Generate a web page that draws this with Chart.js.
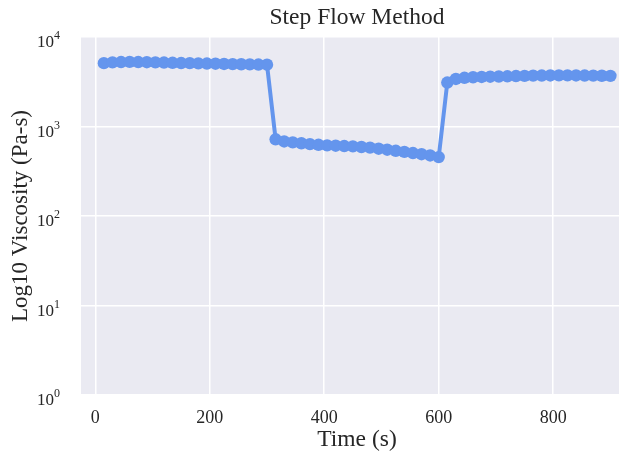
<!DOCTYPE html>
<html>
<head>
<meta charset="utf-8">
<title>Step Flow Method</title>
<script src="https://cdn.jsdelivr.net/npm/chart.js@4.4.1/dist/chart.umd.min.js"></script>
<style>
    html, body { margin: 0; padding: 0; background: #ffffff; }
    canvas { display: block; }
</style>
</head>
<body>
<canvas id="viscosityChart" width="629" height="457"></canvas>
<script>
// Step flow test: three shear steps, viscosity sampled every 15 s
const timeSeconds = [
    15, 30, 45, 60, 75, 90, 105, 120, 135, 150,
    165, 180, 195, 210, 225, 240, 255, 270, 285, 300,
    315, 330, 345, 360, 375, 390, 405, 420, 435, 450,
    465, 480, 495, 510, 525, 540, 555, 570, 585, 600,
    615, 630, 645, 660, 675, 690, 705, 720, 735, 750,
    765, 780, 795, 810, 825, 840, 855, 870, 885, 900
];

const viscosity = [
    5100, 5200, 5250, 5270, 5250, 5230, 5200, 5180, 5150, 5120,
    5100, 5080, 5050, 5030, 5000, 4980, 4960, 4940, 4920, 4900,
    720, 680, 665, 650, 635, 625, 615, 610, 605, 600,
    590, 580, 565, 550, 535, 520, 505, 490, 475, 455,
    3100, 3400, 3500, 3550, 3580, 3600, 3620, 3640, 3660, 3680,
    3700, 3710, 3720, 3730, 3730, 3720, 3710, 3700, 3690, 3680
];

const xTicks = [0, 200, 400, 600, 800];
const yTicks = [1, 10, 100, 1000, 10000];

const chartTitle = 'Step Flow Method';
const xLabel = 'Time (s)';
const yLabel = 'Log10 Viscosity (Pa-s)';

const FONT = "'Liberation Serif', 'Times New Roman', serif";
const TEXT_COLOR = '#262626';
const LABEL_CENTER_X = 357;

// seaborn-like grey plot background
const plotBackground = {
    id: 'plotBackground',
    beforeDraw(chart) {
        const { ctx, chartArea: a } = chart;
        ctx.save();
        ctx.fillStyle = '#eaeaf2';
        ctx.fillRect(a.left, a.top, a.right - a.left, a.bottom - a.top);
        ctx.restore();
    }
};

// log axis labels as 10 with a raised exponent, plus title and x label
const textLayer = {
    id: 'textLayer',
    afterDraw(chart) {
        const { ctx } = chart;
        const scale = chart.scales.y;
        ctx.save();
        ctx.fillStyle = TEXT_COLOR;
        ctx.textBaseline = 'alphabetic';
        yTicks.forEach(v => {
            const y = scale.getPixelForValue(v);
            const exp = Math.round(Math.log10(v));
            ctx.font = `17px ${FONT}`;
            ctx.textAlign = 'right';
            ctx.fillText('10', 54, y + 10);
            ctx.font = `12px ${FONT}`;
            ctx.textAlign = 'left';
            ctx.fillText(String(exp), 54, y + 2);
        });

        ctx.textAlign = 'center';
        ctx.textBaseline = 'middle';
        ctx.font = `23.5px ${FONT}`;
        ctx.fillText(chartTitle, LABEL_CENTER_X, 18);
        ctx.fillText(xLabel, LABEL_CENTER_X, 440);
        ctx.restore();
    }
};

const ctx = document.getElementById('viscosityChart');

new Chart(ctx, {
    type: 'line',
    data: {
        datasets: [{
            label: 'Viscosity',
            data: timeSeconds.map((t, i) => ({ x: t, y: viscosity[i] })),
            borderColor: '#6495ed',
            backgroundColor: '#6495ed',
            borderWidth: 4,
            pointRadius: 6.2,
            pointBorderWidth: 0,
            pointHoverRadius: 6.2,
            tension: 0,
            fill: false
        }]
    },
    options: {
        responsive: false,
        animation: false,
        layout: {
            padding: { left: 0, right: 10, top: 37, bottom: 0 }
        },
        plugins: {
            legend: { display: false },
            tooltip: { enabled: false },
            title: { display: false }
        },
        scales: {
            x: {
                type: 'linear',
                min: -25,
                max: 915,
                afterBuildTicks: scale => {
                    scale.ticks = xTicks.map(v => ({ value: v }));
                },
                afterFit: scale => {
                    scale.height = 62;
                },
                ticks: {
                    includeBounds: false,
                    color: TEXT_COLOR,
                    font: { family: FONT, size: 18 },
                    padding: 12,
                    maxRotation: 0
                },
                grid: {
                    color: '#ffffff',
                    lineWidth: 1.5,
                    drawTicks: false
                },
                border: { display: false }
            },
            y: {
                type: 'logarithmic',
                min: 1,
                max: 10000,
                afterBuildTicks: scale => {
                    scale.ticks = yTicks.map(v => ({ value: v, major: true }));
                },
                afterFit: scale => {
                    scale.width = 81;
                },
                ticks: {
                    display: false
                },
                grid: {
                    color: '#ffffff',
                    lineWidth: 1.5,
                    drawTicks: false
                },
                border: { display: false },
                title: {
                    display: true,
                    text: yLabel,
                    color: TEXT_COLOR,
                    font: { family: FONT, size: 23 },
                    padding: { top: 7, bottom: 0 }
                }
            }
        }
    },
    plugins: [plotBackground, textLayer]
});
</script>
</body>
</html>
